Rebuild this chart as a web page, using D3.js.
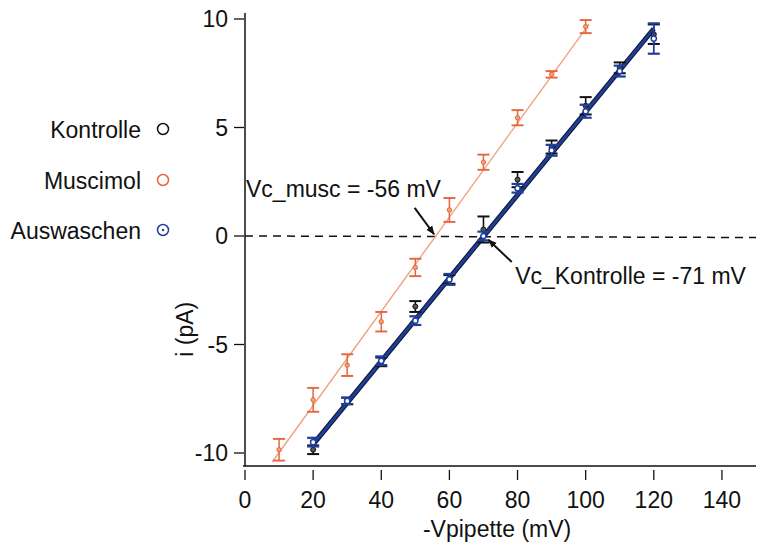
<!DOCTYPE html>
<html><head><meta charset="utf-8">
<script src="https://cdn.jsdelivr.net/npm/d3@7"></script>
<style>body{margin:0;background:#fff}svg{display:block}text{font-family:"Liberation Sans",Arial,sans-serif;fill:#111}</style>
</head><body><div id="c"></div>
<script>
const muscV = [10,20,30,40,50,60,70,80,90,100];
const muscI = [-9.85,-7.55,-5.95,-3.95,-1.45,1.2,3.4,5.45,7.45,9.65];
const muscE = [0.5,0.55,0.5,0.45,0.4,0.55,0.35,0.35,0.15,0.3];
const kontV = [20,30,40,50,60,70,80,90,100,110,120];
const kontI = [-9.85,-7.6,-5.8,-3.25,-2.0,0.3,2.6,4.1,6.0,7.75,9.3];
const kontE = [0.2,0.15,0.2,0.25,0.2,0.6,0.35,0.3,0.4,0.25,0.45];
const ausV = [20,30,40,50,60,70,80,90,100,110,120];
const ausI = [-9.5,-7.6,-5.75,-3.9,-2.0,0.0,2.2,3.95,5.75,7.6,9.1];
const ausE = [0.2,0.15,0.2,0.2,0.25,0.2,0.2,0.25,0.3,0.25,0.7];
const xTicks = [0,20,40,60,80,100,120,140];
const yTicks = [-10,-5,0,5,10];
const legendNames = ["Kontrolle","Muscimol","Auswaschen"];
const vcMusc = -56, vcKont = -71;
const muscSlope = 0.217;
const kontFit = [[20,-9.6],[120,9.55]];

const W=761,H=548;
const svg=d3.select("#c").append("svg").attr("width",W).attr("height",H);
const x=d3.scaleLinear().domain([0,150]).range([245,756]);
const y=d3.scaleLinear().domain([-10,10]).range([453,19]);
const fs=23;

// axes
const gx=svg.append("g").attr("transform","translate(0,466)");
gx.append("line").attr("x1",x(0)-2).attr("x2",x(150)).attr("stroke","#111").attr("stroke-width",1.5);
gx.selectAll("line.t").data(xTicks).join("line").attr("class","t")
  .attr("x1",d=>x(d)).attr("x2",d=>x(d)).attr("y1",4).attr("y2",14).attr("stroke","#111").attr("stroke-width",1.3);
gx.selectAll("text").data(xTicks).join("text").attr("x",d=>x(d)).attr("y",42)
  .attr("text-anchor","middle").attr("font-size",fs).text(d=>d);
svg.append("text").attr("x",x(74)).attr("y",537).attr("text-anchor","middle").attr("font-size",fs).text("-Vpipette (mV)");

const gy=svg.append("g").attr("transform","translate(245,0)");
gy.append("line").attr("y1",13).attr("y2",466).attr("stroke","#111").attr("stroke-width",1.5);
gy.selectAll("line.t").data(yTicks).join("line").attr("class","t")
  .attr("y1",d=>y(d)).attr("y2",d=>y(d)).attr("x1",-11).attr("x2",-1).attr("stroke","#111").attr("stroke-width",1.3);
gy.selectAll("text").data(yTicks).join("text").attr("x",-17).attr("y",d=>y(d)+8)
  .attr("text-anchor","end").attr("font-size",fs).text(d=>d);
svg.append("text").attr("transform",`translate(193,${y(-4.3)}) rotate(-90)`).attr("text-anchor","middle").attr("font-size",fs).text("i (pA)");

// zero dashed line
svg.append("line").attr("x1",x(0)).attr("x2",x(150)).attr("y1",y(0)).attr("y2",y(-0.07))
  .attr("stroke","#111").attr("stroke-width",1.5).attr("stroke-dasharray","8,6");

// fit lines
const mLine=[8,101].map(v=>[v,muscSlope*(v+vcMusc)]);
svg.append("line").attr("x1",x(mLine[0][0])).attr("y1",y(mLine[0][1])).attr("x2",x(mLine[1][0])).attr("y2",y(mLine[1][1]))
  .attr("stroke","#f0a27c").attr("stroke-width",1.4);
svg.append("line").attr("x1",x(kontFit[0][0])).attr("y1",y(kontFit[0][1])).attr("x2",x(kontFit[1][0])).attr("y2",y(kontFit[1][1]))
  .attr("stroke","#111a3a").attr("stroke-width",5);
svg.append("line").attr("x1",x(kontFit[0][0])).attr("y1",y(kontFit[0][1])).attr("x2",x(kontFit[1][0])).attr("y2",y(kontFit[1][1]))
  .attr("stroke","#1f3f9a").attr("stroke-width",2.6);

function errs(V,I,E,color,sw,cap){
  const g=svg.append("g");
  V.forEach((v,i)=>{
    const cx=x(v), y1=y(I[i]+E[i]), y2=y(I[i]-E[i]);
    g.append("line").attr("x1",cx).attr("x2",cx).attr("y1",y1).attr("y2",y2).attr("stroke",color).attr("stroke-width",sw);
    [y1,y2].forEach(yy=>g.append("line").attr("x1",cx-cap).attr("x2",cx+cap).attr("y1",yy).attr("y2",yy).attr("stroke",color).attr("stroke-width",sw+0.4));
  });
  return g;
}
errs(kontV,kontI,kontE,"#111",1.6,6);
kontV.forEach((v,i)=>svg.append("circle").attr("cx",x(v)).attr("cy",y(kontI[i])).attr("r",2.5).attr("fill","#555").attr("stroke","#111").attr("stroke-width",1));
errs(muscV,muscI,muscE,"#e8643c",1.5,6);
muscV.forEach((v,i)=>svg.append("circle").attr("cx",x(v)).attr("cy",y(muscI[i])).attr("r",2.2).attr("fill","#f3a07a").attr("stroke","#e8643c").attr("stroke-width",1));
errs(ausV,ausI,ausE,"#1f3f9a",1.8,6);
ausV.forEach((v,i)=>svg.append("circle").attr("cx",x(v)).attr("cy",y(ausI[i])).attr("r",2.6).attr("fill","#fff").attr("stroke","#1f3f9a").attr("stroke-width",1.5));

// annotations
svg.append("defs").append("marker").attr("id","ah").attr("viewBox","0 0 10 10").attr("refX",9).attr("refY",5)
  .attr("markerWidth",9).attr("markerHeight",9).attr("orient","auto-start-reverse").attr("markerUnits","userSpaceOnUse")
  .append("path").attr("d","M0,1 L10,5 L0,9 Z").attr("fill","#111");
svg.append("line").attr("x1",x(49.8)).attr("y1",y(1.3)).attr("x2",x(55.5)).attr("y2",y(0.08))
  .attr("stroke","#111").attr("stroke-width",2).attr("marker-end","url(#ah)");
svg.append("text").attr("x",x(0.3)).attr("y",y(1.8)).attr("font-size",fs).text("Vc_musc = -56 mV");
svg.append("line").attr("x1",x(78.3)).attr("y1",y(-1.2)).attr("x2",x(71.5)).attr("y2",y(-0.18))
  .attr("stroke","#111").attr("stroke-width",2).attr("marker-end","url(#ah)");
svg.append("text").attr("x",x(79.3)).attr("y",y(-2.2)).attr("font-size",fs).text("Vc_Kontrolle = -71 mV");

// legend
const legColors=["#111","#e8643c","#1f3f9a"];
const legY=[130,181,231];
legendNames.forEach((n,i)=>{
  svg.append("text").attr("x",141).attr("y",legY[i]+8).attr("text-anchor","end").attr("font-size",fs).text(n);
  svg.append("circle").attr("cx",163).attr("cy",legY[i]-1).attr("r",5.5).attr("fill","none").attr("stroke",legColors[i]).attr("stroke-width",1.5);
  if(i===2) svg.append("circle").attr("cx",163).attr("cy",legY[i]-1).attr("r",1.2).attr("fill",legColors[i]);
});
</script></body></html>
